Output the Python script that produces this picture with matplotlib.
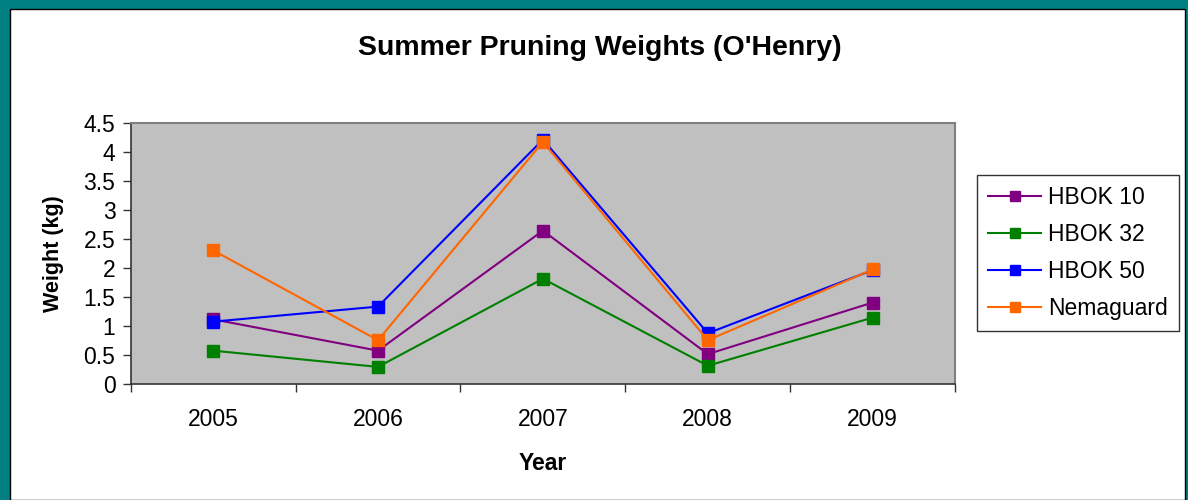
import matplotlib.pyplot as plt
from matplotlib.patches import Rectangle

plt.rcParams['font.family'] = ['Liberation Sans', 'DejaVu Sans']

# Data
years = ['2005', '2006', '2007', '2008', '2009']
hbok10 = [1.12, 0.58, 2.65, 0.52, 1.41]
hbok32 = [0.58, 0.30, 1.82, 0.32, 1.15]
hbok50 = [1.08, 1.34, 4.22, 0.88, 1.97]
nemaguard = [2.31, 0.76, 4.18, 0.76, 1.98]

series = [('HBOK 10', hbok10, '#800080'),
          ('HBOK 32', hbok32, '#008000'),
          ('HBOK 50', hbok50, '#0000FF'),
          ('Nemaguard', nemaguard, '#FF6600')]

fig = plt.figure(figsize=(11.88, 5), dpi=100, facecolor='#008080')
# white chart area inside the teal border
fig.patches.append(Rectangle((10 / 1188, 0), 1175 / 1188, 491 / 500,
                             transform=fig.transFigure, facecolor='white',
                             edgecolor='black', linewidth=1, zorder=-5))

ax = fig.add_axes([0.110, 0.2314, 0.694, 0.522])
ax.set_zorder(2)
ax.set_facecolor('#C0C0C0')

x = range(1, len(years) + 1)
for name, vals, col in series:
    ax.plot(x, vals, color=col, linewidth=1.5, marker='s', markersize=8,
            markerfacecolor=col, markeredgecolor=col, label=name)

ax.set_xlim(0.5, 5.5)
ax.set_ylim(0, 4.5)
ax.set_yticks([0, 0.5, 1, 1.5, 2, 2.5, 3, 3.5, 4, 4.5])
ax.set_yticklabels(['0', '0.5', '1', '1.5', '2', '2.5', '3', '3.5', '4', '4.5'])
ax.set_xticks(list(x))
ax.set_xticklabels(years)
ax.set_xticks([0.5, 1.5, 2.5, 3.5, 4.5, 5.5], minor=True)
ax.tick_params(axis='x', which='major', length=0, pad=17, labelsize=16.5)
ax.tick_params(axis='x', which='minor', length=6, width=1, color='#333333')
ax.tick_params(axis='y', length=6, width=1, pad=5, labelsize=16.5, color='#333333')

for s in ['top', 'right']:
    ax.spines[s].set_color('#808080')
    ax.spines[s].set_linewidth(1.5)
for s in ['left', 'bottom']:
    ax.spines[s].set_color('#333333')
    ax.spines[s].set_linewidth(1.2)

ax.set_xlabel('Year', fontsize=16.5, fontweight='bold', labelpad=15)
ax.set_ylabel('Weight (kg)', fontsize=15.5, fontweight='bold', labelpad=14)
fig.text(0.505, 0.904, "Summer Pruning Weights (O'Henry)", ha='center', va='center',
         fontsize=20.5, fontweight='bold')

leg = ax.legend(loc='center left', bbox_to_anchor=(977 / 1188, 0.494),
                bbox_transform=fig.transFigure, fontsize=16.5, frameon=True,
                fancybox=False, edgecolor='black', handlelength=2.3,
                labelspacing=0.6, borderpad=0.5, handletextpad=0.3,
                borderaxespad=0)
leg.get_frame().set_linewidth(1)
for h in leg.legend_handles:
    h.set_markersize(7)

fig.savefig('out.png', dpi=100, facecolor=fig.get_facecolor())
